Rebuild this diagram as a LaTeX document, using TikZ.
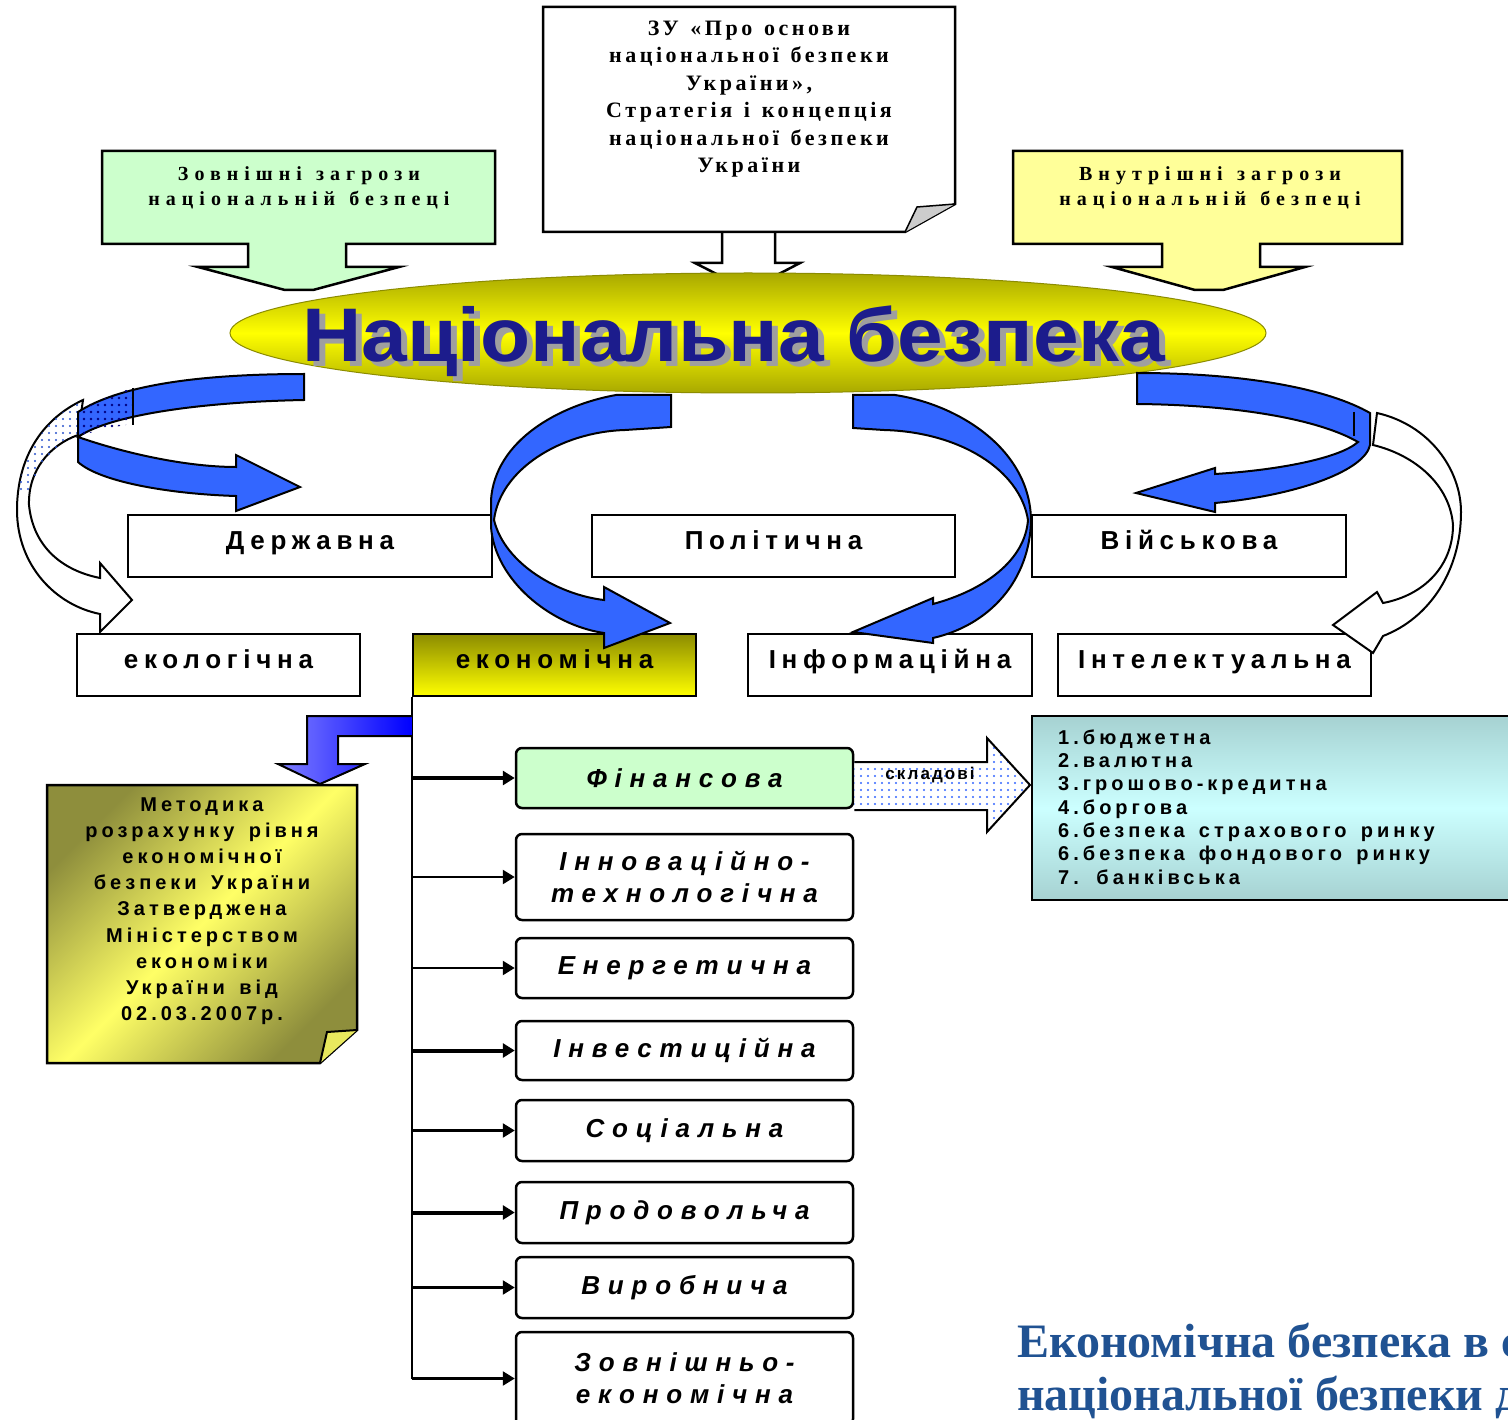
\documentclass[tikz,border=0pt]{standalone}
\usepackage{fontspec}
\setmainfont{Liberation Serif}
\newfontfamily\sansA[LetterSpace=22,WordSpace=2]{Liberation Sans}
\newfontfamily\sansB[LetterSpace=30,WordSpace=2]{Liberation Sans}
\newfontfamily\sansC[LetterSpace=20,WordSpace=1.5]{Liberation Sans}
\newfontfamily\sansS[LetterSpace=12]{Liberation Sans}
\newfontfamily\sansT{Liberation Sans}
\newfontfamily\serA[LetterSpace=16,WordSpace=1.3]{Liberation Serif}
\newfontfamily\serB[LetterSpace=30,WordSpace=1.3]{Liberation Serif}
\usetikzlibrary{shapes.geometric,arrows.meta,patterns.meta}
\definecolor{greenfill}{HTML}{CCFFCC}
\definecolor{yellowfill}{HTML}{FFFF99}
\definecolor{oliveA}{HTML}{A8A800}
\definecolor{yellowA}{HTML}{FFFF00}
\definecolor{oliveB}{HTML}{8C8C00}
\definecolor{arrowblue}{HTML}{3366FF}
\definecolor{cyanA}{HTML}{A6D2D2}
\definecolor{cyanB}{HTML}{CCFFFF}
\definecolor{methol}{HTML}{8E8E3C}
\definecolor{methye}{HTML}{FFFF66}
\definecolor{titleblue}{RGB}{32,82,146}
\definecolor{navy}{RGB}{28,28,140}
\definecolor{lightviolet}{HTML}{8080FF}
\definecolor{deepblue}{HTML}{0000FF}
\begin{document}
\begin{tikzpicture}[x=1pt,y=-1pt,
  boxline/.style={draw=black, line width=2.5pt, line join=miter},
  box/.style={boxline, fill=white, inner sep=0pt, minimum height=62pt, text height=6pt, text depth=0pt,
    font=\sansA\bfseries\fontsize{26}{28}\selectfont},
  sub/.style={boxline, rounded corners=6pt, fill=white, inner sep=0pt, minimum width=337pt,
    align=center, font=\sansB\bfseries\itshape\fontsize{26}{32}\selectfont},
  branch/.style={draw=black, line width=2.5pt, -{Triangle[length=12pt,width=14pt]}},
  bluearrow/.style={fill=arrowblue, draw=black, line width=2pt, line join=miter},
  whitearrow/.style={fill=white, draw=black, line width=2pt, line join=miter},
  sertext/.style={align=center, inner sep=0pt},
]
\useasboundingbox (0,0) rectangle (1508,1420);
\fill[white] (0,0) rectangle (1508,1420);

% ---------- top document box (law) ----------
\draw[boxline, fill=white] (722,232) -- (722,263) -- (695,263) -- (748,290) -- (800,263) -- (775,263) -- (775,232);
\draw[boxline, fill=white] (543,7) -- (955,7) -- (955,204) -- (905,232) -- (543,232) -- cycle;
\draw[fill=gray!40, line width=1.5pt] (905,232) -- (917,207) -- (955,204);
\node[sertext, font=\serA\bfseries\fontsize{22}{27.4}\selectfont] (law) at (749,99)
  {ЗУ «Про основи\\національної безпеки\\України»,\\Стратегія і концепція\\національної безпеки\\України};

% ---------- threat callouts ----------
\draw[boxline, fill=greenfill] (102,151) -- (495,151) -- (495,244) -- (346,244) -- (346,267) -- (399,267)
  -- (313,290) -- (285,290) -- (198,267) -- (248,267) -- (248,244) -- (102,244) -- cycle;
\node[sertext, font=\serB\bfseries\fontsize{20}{25}\selectfont] (ext) at (299,188)
  {Зовнішні загрози\\національній безпеці};
\draw[boxline, fill=yellowfill] (1013,151) -- (1402,151) -- (1402,244) -- (1260,244) -- (1260,267) -- (1305,267)
  -- (1223,290) -- (1195,290) -- (1112,267) -- (1162,267) -- (1162,244) -- (1013,244) -- cycle;
\node[sertext, font=\serB\bfseries\fontsize{20}{25}\selectfont] (int) at (1210,188)
  {Внутрішні загрози\\національній безпеці};

% ---------- central ellipse ----------
\node[ellipse, draw=oliveB, line width=1pt, minimum width=1036pt, minimum height=120pt, inner sep=0pt,
  top color=oliveA, bottom color=oliveA, middle color=yellowA] (nb) at (748,333) {};
\node[anchor=base, inner sep=0pt, text=gray!75, font=\sansT\bfseries\fontsize{76}{80}\selectfont]
  (nbshadow) at (740,367) {\scalebox{1.08}[1]{Національна безпека}};
\node[anchor=base, inner sep=0pt, text=navy, font=\sansT\bfseries\fontsize{76}{80}\selectfont]
  (nbtitle) at (734,362) {\scalebox{1.08}[1]{Національна безпека}};

% ---------- first and second rows ----------
\node[box, minimum width=364pt] (gov) at (310,546) {Державна};
\node[box, minimum width=363pt] (pol) at (773.5,546) {Політична};
\node[box, minimum width=314pt] (mil) at (1189,546) {Військова};
\node[box, minimum width=283pt] (eco) at (218.5,665) {екологічна};
\node[box, minimum width=283pt, top color=oliveB, bottom color=yellowA] (econ) at (554.5,665) {економічна};
\node[box, minimum width=284pt] (inf) at (890,665) {Інформаційна};
\node[box, minimum width=313pt] (intl) at (1214.5,665) {Інтелектуальна};

% ---------- white outlined arrows ----------
\draw[whitearrow] (83,400) .. controls (40,420) and (17,460) .. (17,510)
  .. controls (17,565) and (55,605) .. (100,614) -- (100,632) -- (132,600) -- (100,563) -- (100,578)
  .. controls (60,570) and (33,545) .. (29,505) .. controls (28,470) and (50,445) .. (78,435) -- cycle;
\fill[pattern={Dots[distance=7pt,radius=1.1pt]}, pattern color=arrowblue!80!black]
  (83,400) .. controls (45,418) and (22,455) .. (19,490) -- (29,495) .. controls (35,468) and (52,447) .. (78,435) -- cycle;
\draw[whitearrow] (1377,413) .. controls (1430,425) and (1461,470) .. (1461,512)
  .. controls (1461,570) and (1430,618) .. (1383,636) -- (1373,653) -- (1333,625) -- (1377,592) -- (1383,603)
  .. controls (1425,595) and (1453,565) .. (1453,525) .. controls (1450,485) and (1415,455) .. (1373,445) -- cycle;

% ---------- blue curved arrows ----------
\draw[bluearrow] (304,374) -- (304,400) .. controls (200,402) and (110,415) .. (78,437)
  .. controls (130,455) and (190,467) .. (236,467) -- (236,455) -- (300,487) -- (236,511) -- (236,496)
  .. controls (170,494) and (100,482) .. (78,462) -- (78,412) .. controls (120,385) and (200,374) .. (304,374) -- cycle;
\fill[pattern={Dots[distance=7pt,radius=1.3pt]}, pattern color=blue!50!black]
  (133,388) -- (133,424) .. controls (110,427) and (90,432) .. (79,437) -- (79,412) .. controls (95,402) and (115,393) .. (133,388) -- cycle;
\draw[line width=2pt] (133,388) -- (133,425);

\draw[bluearrow] (1137,373) .. controls (1250,373) and (1330,390) .. (1370,413) -- (1370,445)
  .. controls (1365,470) and (1300,495) .. (1215,503) -- (1215,512) -- (1136,493) -- (1215,468) -- (1215,474)
  .. controls (1280,470) and (1340,458) .. (1358,442) .. controls (1320,420) and (1240,405) .. (1137,404) -- cycle;
\draw[line width=2pt] (1354,412) -- (1354,436);

\draw[bluearrow] (671,395) -- (616,395) .. controls (560,405) and (495,440) .. (491,500) -- (491,527)
  .. controls (495,580) and (550,625) .. (604,633) -- (604,648) -- (670,623) -- (604,587) -- (604,600)
  .. controls (560,595) and (505,565) .. (494,520) .. controls (500,470) and (560,432) .. (625,430) -- (671,427) -- cycle;

\draw[bluearrow] (853,395) -- (895,395) .. controls (960,405) and (1030,450) .. (1031,520)
  .. controls (1030,580) and (990,625) .. (933,638) -- (933,643) -- (853,632) -- (933,598) -- (933,604)
  .. controls (985,590) and (1025,560) .. (1028,520) .. controls (1020,470) and (960,432) .. (884,430) -- (853,428) -- cycle;

% ---------- economic sub-types ----------
\node[sub, minimum height=60pt, fill=greenfill] (fin) at (684.5,778) {Фінансова};
\node[sub, minimum height=86pt] (inn) at (684.5,877) {Інноваційно-\\технологічна};
\node[sub, minimum height=60pt] (ene) at (684.5,968) {Енергетична};
\node[sub, minimum height=59pt] (inv) at (684.5,1050.5) {Інвестиційна};
\node[sub, minimum height=61pt] (soc) at (684.5,1130.5) {Соціальна};
\node[sub, minimum height=61pt] (food) at (684.5,1212.5) {Продовольча};
\node[sub, minimum height=61pt] (prod) at (684.5,1287.5) {Виробнича};
\node[sub, minimum height=93pt] (fea) at (684.5,1378.5) {Зовнішньо-\\економічна};

\draw[line width=2.5pt] (econ.south west) -- (econ.south west |- fea.west);
\foreach \b/\w in {fin/4pt, inn/2.5pt, ene/2.5pt, inv/4pt, soc/2.5pt, food/4pt, prod/2.5pt, fea/2.5pt}
  \draw[branch, line width=\w] (econ.south west |- \b.west) -- (\b.west);

% ---------- methodology note ----------
\path[draw=black, line width=2.5pt, line join=miter, top color=methol, bottom color=methol, middle color=methye, shading angle=45]
  (47,785) -- (357,785) -- (357,1030) -- (320,1063) -- (47,1063) -- cycle;
\draw[line width=2pt, fill=methye!80!methol] (320,1063) -- (327,1032) -- (357,1030);
\node[sertext, font=\sansC\bfseries\fontsize{20}{26.2}\selectfont] (meth) at (202,911)
  {Методика\\розрахунку рівня\\економічної\\безпеки України\\Затверджена\\Міністерством\\економіки\\України від\\02.03.2007р.};
\path[draw=black, line width=2pt, line join=miter, left color=lightviolet, right color=deepblue]
  (econ.south west |- 0,716) -- (307,716) -- (307,764) -- (278,764) -- (320,784) -- (365,764) -- (338,764) -- (338,736)
  -- (econ.south west |- 0,736);

% ---------- components of financial security ----------
\draw[line width=2pt, line join=miter, preaction={fill=white}, pattern={Dots[distance=7pt,radius=1.2pt]}, pattern color=arrowblue]
  (fin.east |- 0,762) -- (987,762) -- (987,738) -- (1030,785) -- (987,832) -- (987,810) -- (fin.east |- 0,810);
\node[inner sep=1pt, font=\sansS\bfseries\fontsize{17}{20}\selectfont] (skl) at (930,775) {складові};
\node[boxline, inner sep=0pt, minimum width=488pt, minimum height=184pt,
  top color=cyanA, bottom color=cyanA, middle color=cyanB] (comp) at (1276,808) {};
\node[anchor=west, inner sep=0pt, align=left, font=\sansC\bfseries\fontsize{20}{23.3}\selectfont] (comptext) at (1058,807)
  {1.бюджетна\\2.валютна\\3.грошово-кредитна\\4.боргова\\6.безпека страхового ринку\\6.безпека фондового ринку\\7. банківська};

% ---------- slide title (cut at the edge) ----------
\begin{scope}
\clip (0,0) rectangle (1508,1420);
\node[anchor=base west, inner sep=0pt, text=titleblue, font=\bfseries\fontsize{48}{53}\selectfont] (title1) at (1017,1357) {Економічна безпека в с};
\node[anchor=base west, inner sep=0pt, text=titleblue, font=\bfseries\fontsize{48}{53}\selectfont] (title2) at (1017,1410) {національної безпеки д};
\end{scope}
\end{tikzpicture}
\end{document}
